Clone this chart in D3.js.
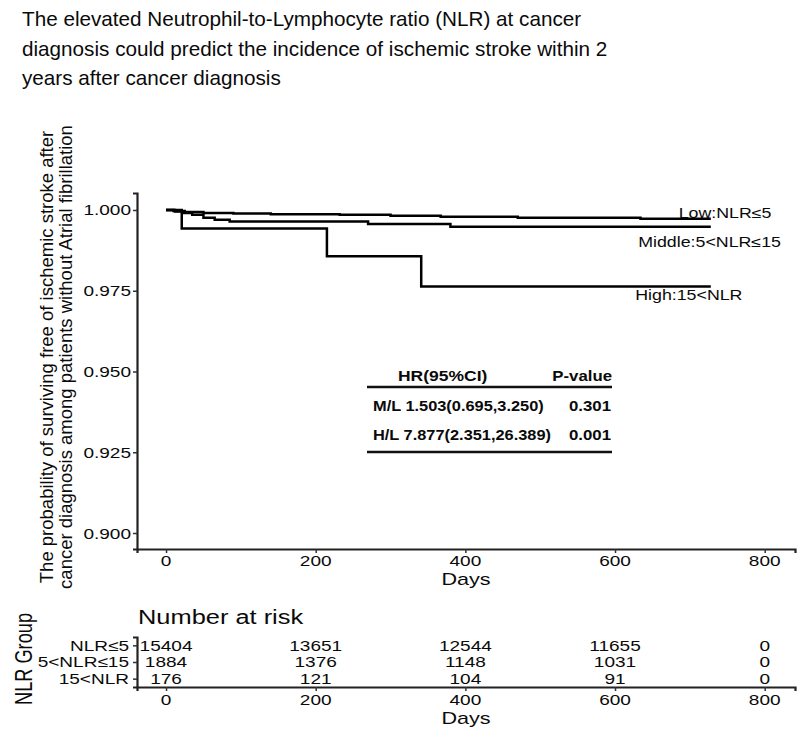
<!DOCTYPE html>
<html><head><meta charset="utf-8">
<script src="https://cdn.jsdelivr.net/npm/d3@7"></script>
<style>
body{margin:0;background:#fff;}
svg{display:block;}
text{font-family:"Liberation Sans",Arial,sans-serif;fill:#0a0a0a;}
</style></head>
<body><svg id="c" width="800" height="740"></svg>
<script>
// ---- data ----
const titleLines = ["The elevated Neutrophil-to-Lymphocyte ratio (NLR) at cancer","diagnosis could predict the incidence of ischemic stroke within 2","years after cancer diagnosis"];
const yTitleLines = ["The probability of surviving free of ischemic stroke after","cancer diagnosis among patients without Atrial fibrillation"];
const groups = ["Low:NLR≤5","Middle:5<NLR≤15","High:15<NLR"];
const riskLabels = ["NLR≤5","5<NLR≤15","15<NLR"];
const lowDays  = [0,10,25,50,90,140,232,300,367,470,634,728];
const lowSurv  = [1,0.9997,0.9994,0.9991,0.9989,0.9987,0.9985,0.9982,0.9979,0.9976,0.9973,0.9973];
const midDays  = [0,12,22,35,50,65,85,270,380,728];
const midSurv  = [1,0.9995,0.9991,0.9985,0.9976,0.9970,0.9964,0.9957,0.9948,0.9948];
const highDays = [0,21,215,341,728];
const highSurv = [1,0.9943,0.9857,0.9763,0.9763];
const labelDay = [685,631,627];
const labelSurv = [0.99752,0.98855,0.97214];
const xTicks = [0,200,400,600,800];
const yTicks = [0.900,0.925,0.950,0.975,1.000];
const riskTimes = [0,200,400,600,800];
const riskLow  = [15404,13651,12544,11655,0];
const riskMid  = [1884,1376,1148,1031,0];
const riskHigh = [176,121,104,91,0];
const hrHeader = ["HR(95%CI)","P-value"];
const hrRows = [["M/L 1.503(0.695,3.250)","0.301"],["H/L 7.877(2.351,26.389)","0.001"]];

// ---- drawing ----
const SX = 1.27;
const svg = d3.select("#c");
function txt(g,x,y,s,size,anchor,weight,sx){
  return g.append("text").attr("transform",`translate(${x},${y}) scale(${sx===undefined?SX:sx},1)`)
   .attr("text-anchor",anchor||"start").attr("font-size",size).attr("font-weight",weight||"normal").text(s);
}
// title
titleLines.forEach((t,i)=>txt(svg,22,26+i*29.5,t,20.7,"start","normal",1));

const x = d3.scaleLinear().domain([-38.8,840.5]).range([137,795]);
const y = d3.scaleLinear().domain([0.89505,1.00526]).range([549,193]);

// axes main
const gx = svg.append("g").attr("transform","translate(0,549)")
  .call(d3.axisBottom(x).tickValues(xTicks).tickSizeOuter(0).tickSize(4).tickFormat(()=>""));
const gy = svg.append("g").attr("transform","translate(137,0)")
  .call(d3.axisLeft(y).tickValues(yTicks).tickSizeOuter(0).tickSize(4).tickFormat(()=>""));
[gx,gy].forEach(g=>{g.select(".domain").attr("stroke","#222").attr("stroke-width",2.2);
  g.selectAll(".tick line").attr("stroke","#333").attr("stroke-width",1.5);});
xTicks.forEach(t=>txt(svg,x(t),566,String(t),15,"middle"));
yTicks.forEach(t=>txt(svg,131,y(t)+5.5,d3.format(".3f")(t),15,"end"));
txt(svg,466,585,"Days",17,"middle");

// y title
yTitleLines.forEach((t,i)=>{
  svg.append("text").attr("transform",`translate(${53+i*19},357) rotate(-90)`)
   .attr("text-anchor","middle").attr("font-size",18.5).text(t);
});

// curves
const line = d3.line().x(d=>x(d[0])).y(d=>y(d[1])).curve(d3.curveStepAfter);
[[lowDays,lowSurv],[midDays,midSurv],[highDays,highSurv]].forEach(([ds,ss])=>{
  svg.append("path").datum(ds.map((d,i)=>[d,ss[i]])).attr("d",line)
   .attr("fill","none").attr("stroke","#000").attr("stroke-width",2.5);
});
groups.forEach((g,i)=>txt(svg,x(labelDay[i]),y(labelSurv[i]),g,14,"start"));

// HR table
const tbl = svg.append("g");
tbl.append("line").attr("x1",367).attr("x2",612).attr("y1",387).attr("y2",387).attr("stroke","#111").attr("stroke-width",2.6);
tbl.append("line").attr("x1",367).attr("x2",612).attr("y1",452).attr("y2",452).attr("stroke","#111").attr("stroke-width",2.6);
txt(tbl,398,381,hrHeader[0],14,"start","bold",1.25);
txt(tbl,612,381,hrHeader[1],14,"end","bold",1.2);
hrRows.forEach((r,i)=>{
  txt(tbl,373,411+i*29,r[0],14,"start","bold",1.17);
  txt(tbl,611,411+i*29,r[1],14,"end","bold",1.2);
});

// risk table
txt(svg,138,624,"Number at risk",20,"start");
const yr = d3.scalePoint().domain(riskLabels).range([637,687]).padding(0.5);
const gxr = svg.append("g").attr("transform","translate(0,687)")
  .call(d3.axisBottom(x).tickValues(riskTimes).tickSizeOuter(0).tickSize(4).tickFormat(()=>""));
const gyr = svg.append("g").attr("transform","translate(137,0)")
  .call(d3.axisLeft(yr).tickSizeOuter(0).tickSize(4).tickFormat(()=>""));
[gxr,gyr].forEach(g=>{g.select(".domain").attr("stroke","#222").attr("stroke-width",2.2);
  g.selectAll(".tick line").attr("stroke","#333").attr("stroke-width",1.5);});
riskLabels.forEach(l=>txt(svg,129,yr(l)+5.3,l,15,"end"));
[riskLow,riskMid,riskHigh].forEach((arr,i)=>{
  arr.forEach((v,j)=>txt(svg,x(riskTimes[j]),yr(riskLabels[i])+5.3,String(v),15,"middle"));
});
riskTimes.forEach(t=>txt(svg,x(t),705,String(t),15,"middle"));
txt(svg,466,724,"Days",17,"middle");
svg.append("text").attr("transform",`translate(32,659) scale(${SX},1) rotate(-90)`)
  .attr("text-anchor","middle").attr("font-size",18.2).text("NLR Group");
</script></body></html>
